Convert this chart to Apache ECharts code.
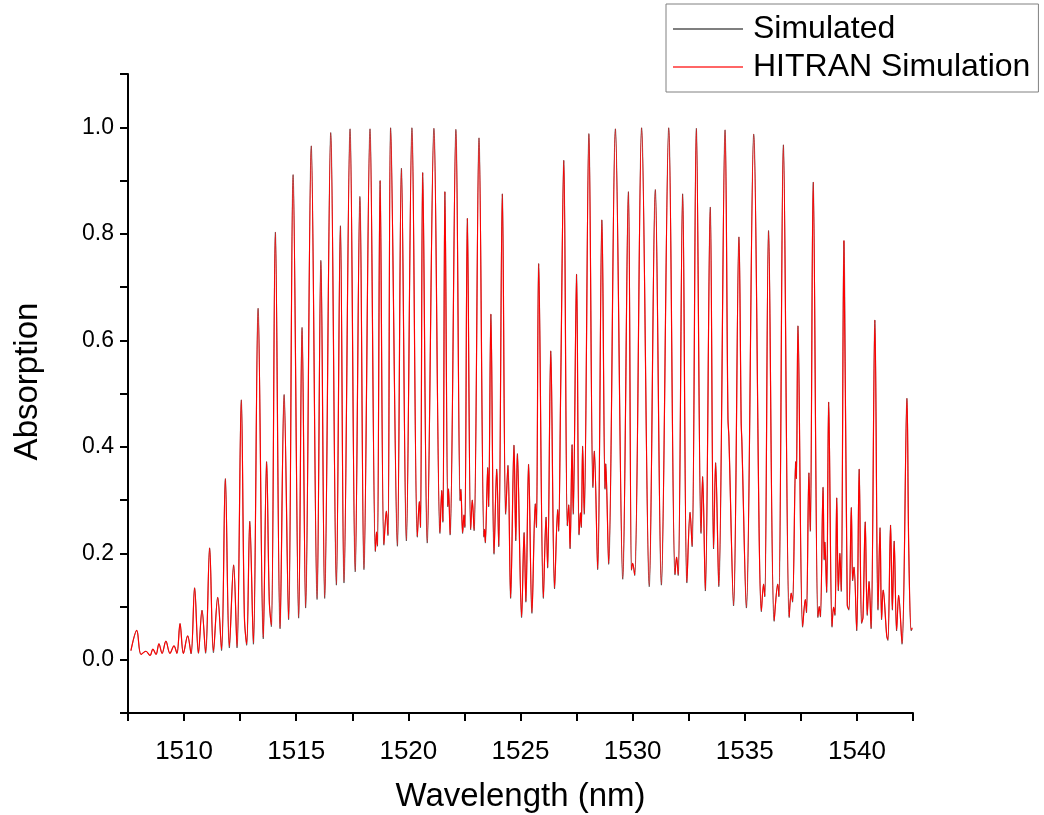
<!DOCTYPE html>
<html><head><meta charset="utf-8">
<script src="https://cdn.jsdelivr.net/npm/echarts@6/dist/echarts.min.js"></script>
<style>html,body{margin:0;padding:0;background:#fff}#c{width:1044px;height:815px}</style>
</head><body><div id="c"></div>
<script>
const wavelength = [
1507.63,1507.89,1508.08,1508.30,1508.48,1508.61,1508.75,1508.88,1509.02,1509.19,
1509.37,1509.55,1509.68,1509.82,1509.97,1510.16,1510.31,1510.47,1510.64,1510.80,
1510.96,1511.14,1511.31,1511.50,1511.67,1511.84,1512.02,1512.21,1512.36,1512.55,
1512.69,1512.79,1512.93,1513.09,1513.30,1513.53,1513.68,1513.80,1513.89,1514.07,
1514.28,1514.46,1514.66,1514.86,1515.11,1515.26,1515.42,1515.67,1515.93,1516.10,
1516.27,1516.54,1516.79,1516.97,1517.13,1517.40,1517.63,1517.84,1518.02,1518.29,
1518.53,1518.58,1518.62,1518.74,1518.91,1519.02,1519.09,1519.21,1519.51,1519.69,
1519.91,1520.16,1520.40,1520.49,1520.54,1520.64,1520.84,1521.14,1521.41,1521.49,
1521.54,1521.63,1521.76,1521.79,1521.86,1522.12,1522.31,1522.34,1522.42,1522.48,
1522.52,1522.63,1522.78,1522.85,1522.93,1523.15,1523.37,1523.40,1523.43,1523.54,
1523.58,1523.68,1523.82,1523.94,1524.03,1524.19,1524.34,1524.44,1524.56,1524.71,
1524.79,1524.86,1525.05,1525.16,1525.24,1525.36,1525.51,1525.66,1525.71,1525.81,
1526.02,1526.14,1526.21,1526.35,1526.52,1526.66,1526.70,1526.79,1526.93,1527.09,
1527.15,1527.21,1527.30,1527.35,1527.50,1527.61,1527.67,1527.71,1527.77,1527.84,
1528.05,1528.23,1528.29,1528.44,1528.63,1528.77,1528.80,1528.93,1529.23,1529.56,
1529.81,1529.95,1530.00,1530.09,1530.40,1530.74,1531.01,1531.28,1531.61,1531.89,
1531.96,1532.03,1532.23,1532.42,1532.56,1532.65,1532.84,1533.05,1533.12,1533.24,
1533.46,1533.61,1533.70,1533.84,1534.12,1534.25,1534.29,1534.50,1534.74,1534.84,
1534.87,1535.07,1535.40,1535.74,1535.84,1535.89,1536.06,1536.31,1536.47,1536.52,
1536.72,1536.98,1537.07,1537.13,1537.27,1537.30,1537.37,1537.58,1537.70,1537.75,
1537.86,1537.92,1538.05,1538.26,1538.32,1538.37,1538.49,1538.54,1538.57,1538.65,
1538.74,1538.89,1538.96,1539.02,1539.10,1539.17,1539.24,1539.30,1539.42,1539.57,
1539.64,1539.75,1539.81,1539.87,1539.99,1540.10,1540.21,1540.27,1540.37,1540.46,
1540.54,1540.63,1540.80,1540.94,1541.03,1541.10,1541.17,1541.33,1541.38,1541.50,
1541.58,1541.66,1541.77,1541.86,1542.01,1542.23,1542.31,1542.42,1542.47
];
const hitran = [
0.017,0.055,0.010,0.016,0.008,0.020,0.010,0.030,0.012,0.035,
0.012,0.026,0.012,0.068,0.012,0.045,0.012,0.135,0.013,0.093,
0.014,0.210,0.016,0.117,0.020,0.340,0.025,0.178,0.025,0.488,
0.080,0.030,0.260,0.032,0.660,0.042,0.372,0.110,0.065,0.803,
0.060,0.498,0.077,0.911,0.080,0.624,0.099,0.965,0.115,0.750,
0.117,0.990,0.142,0.815,0.146,0.997,0.167,0.870,0.171,0.997,
0.205,0.240,0.215,0.900,0.217,0.279,0.235,0.999,0.215,0.923,
0.225,0.999,0.232,0.297,0.250,0.915,0.221,0.998,0.239,0.318,
0.260,0.879,0.289,0.321,0.236,0.996,0.300,0.320,0.239,0.272,
0.250,0.829,0.246,0.300,0.244,0.980,0.232,0.245,0.221,0.361,
0.289,0.649,0.200,0.358,0.214,0.875,0.275,0.365,0.117,0.403,
0.225,0.387,0.081,0.239,0.110,0.367,0.089,0.293,0.250,0.744,
0.117,0.268,0.174,0.580,0.135,0.282,0.243,0.505,0.938,0.253,
0.291,0.210,0.404,0.275,0.724,0.236,0.276,0.250,0.401,0.275,
0.988,0.325,0.392,0.171,0.826,0.322,0.368,0.181,0.997,0.153,
0.879,0.170,0.181,0.160,0.999,0.139,0.883,0.142,0.999,0.161,
0.193,0.160,0.875,0.146,0.277,0.214,0.998,0.239,0.344,0.131,
0.850,0.210,0.370,0.139,0.995,0.452,0.420,0.103,0.794,0.444,
0.410,0.099,0.987,0.092,0.142,0.120,0.806,0.074,0.142,0.120,
0.967,0.081,0.125,0.110,0.372,0.340,0.627,0.063,0.113,0.090,
0.351,0.243,0.897,0.081,0.100,0.082,0.324,0.189,0.221,0.128,
0.484,0.063,0.099,0.085,0.304,0.131,0.200,0.130,0.787,0.103,
0.095,0.286,0.150,0.174,0.056,0.358,0.070,0.080,0.259,0.085,
0.147,0.060,0.638,0.095,0.248,0.077,0.131,0.045,0.038,0.253,
0.095,0.223,0.056,0.121,0.031,0.491,0.210,0.056,0.060
];
const simulated = [
0.017,0.055,0.010,0.016,0.008,0.020,0.010,0.030,0.012,0.035,
0.012,0.026,0.012,0.068,0.012,0.045,0.011,0.135,0.012,0.093,
0.012,0.210,0.013,0.117,0.017,0.340,0.022,0.178,0.022,0.488,
0.080,0.027,0.260,0.029,0.660,0.039,0.372,0.110,0.062,0.803,
0.058,0.498,0.075,0.911,0.078,0.624,0.097,0.965,0.113,0.750,
0.115,0.990,0.140,0.815,0.144,0.997,0.165,0.870,0.169,0.997,
0.203,0.240,0.213,0.900,0.215,0.279,0.233,0.999,0.213,0.923,
0.223,0.999,0.230,0.297,0.248,0.915,0.219,0.998,0.237,0.318,
0.258,0.879,0.287,0.321,0.234,0.996,0.298,0.320,0.237,0.272,
0.248,0.829,0.244,0.300,0.242,0.980,0.230,0.245,0.219,0.361,
0.287,0.649,0.198,0.358,0.212,0.875,0.273,0.365,0.115,0.403,
0.223,0.387,0.079,0.239,0.108,0.367,0.087,0.293,0.248,0.744,
0.115,0.268,0.172,0.580,0.133,0.282,0.241,0.505,0.938,0.251,
0.291,0.208,0.404,0.273,0.724,0.234,0.276,0.248,0.401,0.273,
0.988,0.323,0.392,0.169,0.826,0.320,0.368,0.179,0.997,0.151,
0.879,0.168,0.181,0.158,0.999,0.137,0.883,0.140,0.999,0.159,
0.193,0.158,0.875,0.144,0.277,0.212,0.998,0.237,0.344,0.129,
0.850,0.208,0.370,0.137,0.995,0.452,0.420,0.101,0.794,0.444,
0.410,0.097,0.987,0.090,0.142,0.118,0.806,0.072,0.142,0.118,
0.967,0.079,0.125,0.108,0.372,0.340,0.627,0.061,0.113,0.088,
0.351,0.241,0.897,0.079,0.100,0.080,0.324,0.187,0.221,0.126,
0.484,0.061,0.099,0.083,0.304,0.129,0.200,0.128,0.787,0.101,
0.093,0.286,0.148,0.174,0.054,0.358,0.068,0.080,0.259,0.083,
0.147,0.058,0.638,0.093,0.248,0.075,0.131,0.043,0.036,0.253,
0.093,0.223,0.054,0.121,0.029,0.491,0.210,0.054,0.058
];
const xTickLabels = ['1510','1515','1520','1525','1530','1535','1540'];
const yTickLabels = ['0.0','0.2','0.4','0.6','0.8','1.0'];

const font = "'Liberation Sans', Arial, sans-serif";
const chart = echarts.init(document.getElementById('c'), null, {renderer: 'canvas'});
chart.setOption({
  animation: false,
  backgroundColor: '#ffffff',
  grid: {left: 128, right: 131, top: 74, bottom: 102, outerBoundsMode: 'none', containLabel: false},
  legend: {
    orient: 'vertical', left: 666, top: 4,
    padding: [7, 8, 7, 7],
    icon: 'rect', itemWidth: 70, itemHeight: 1.5, itemGap: 2,
    borderColor: '#808080', borderWidth: 1,
    data: ['Simulated', 'HITRAN Simulation'],
    textStyle: {fontFamily: font, fontSize: 32, color: '#000', lineHeight: 36, padding: [0, 0, 0, 5]}
  },
  xAxis: {
    type: 'value', min: 1507.5, max: 1542.5, interval: 2.5,
    name: 'Wavelength (nm)', nameLocation: 'middle', nameGap: 67,
    nameTextStyle: {fontFamily: font, fontSize: 33, color: '#000'},
    axisLine: {show: true, onZero: false, lineStyle: {color: '#000', width: 2}},
    axisTick: {show: true, inside: false, length: 8, lineStyle: {color: '#000', width: 2}},
    splitLine: {show: false},
    axisLabel: {
      fontFamily: font, fontSize: 26, color: '#000', margin: 26,
      showMinLabel: true, showMaxLabel: true,
      formatter: v => { const s = String(Math.round(v * 10) / 10); return xTickLabels.includes(s) ? s : ''; }
    }
  },
  yAxis: {
    type: 'value', min: -0.1, max: 1.1, interval: 0.1,
    name: 'Absorption', nameLocation: 'middle', nameGap: 84, nameRotate: 90,
    nameTextStyle: {fontFamily: font, fontSize: 33, color: '#000', padding: [0, 0, 0, 24]},
    axisLine: {show: true, onZero: false, lineStyle: {color: '#000', width: 2}},
    axisTick: {show: true, inside: false, length: 8, lineStyle: {color: '#000', width: 2}},
    splitLine: {show: false},
    axisLabel: {
      fontFamily: font, fontSize: 23, color: '#000', margin: 14,
      formatter: v => { const s = (Math.round(v * 10) / 10).toFixed(1); return yTickLabels.includes(s) ? s : ''; }
    }
  },
  series: [
    {
      name: 'Simulated', type: 'line', symbol: 'none', showSymbol: false, z: 2,
      smooth: 0.35,
      lineStyle: {color: '#000000', width: 0.5}, itemStyle: {color: '#555555'},
      data: wavelength.map((x, i) => [x, simulated[i]])
    },
    {
      name: 'HITRAN Simulation', type: 'line', symbol: 'none', showSymbol: false, z: 3,
      smooth: 0.35,
      lineStyle: {color: '#ff0000', width: 1.2}, itemStyle: {color: '#ff3333'},
      data: wavelength.map((x, i) => [x, hitran[i]])
    }
  ]
});
</script>
</body></html>
